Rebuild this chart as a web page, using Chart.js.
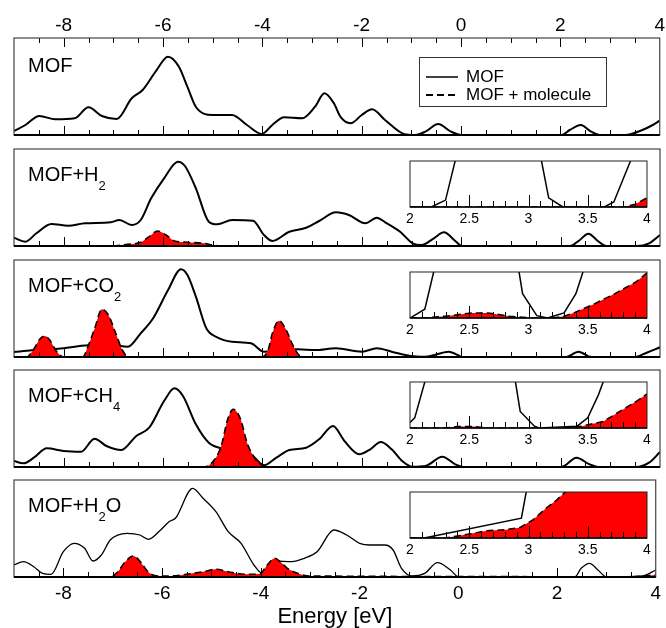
<!DOCTYPE html>
<html>
<head>
<meta charset="utf-8">
<script src="https://cdn.jsdelivr.net/npm/chart.js@4.4.0/dist/chart.umd.min.js"></script>
<style>
  html, body { margin: 0; padding: 0; background: #fff; }
  #fig { position: relative; width: 666px; height: 628px; overflow: hidden; background: #fff; }
  #fig canvas { position: absolute; }
</style>
</head>
<body>
<div id="fig"></div>
<script>
// Axis settings
const energyMin = -9, energyMax = 4;
const energyTicks = [-8, -6, -4, -2, 0, 2, 4];
const insetMin = 2, insetMax = 4;
const insetTicks = [2, 2.5, 3, 3.5, 4];
const dosMax = 97;      // main panels (arb. units)
const insetDosMax = 1;  // insets (arb. units)

const panelLabels = ['MOF', 'MOF+H_2', 'MOF+CO_2', 'MOF+CH_4', 'MOF+H_2O'];
const legendLabels = ['MOF', 'MOF + molecule'];

// Panel 1: MOF
const mofE1 = [-9, -8.77, -8.49, -8.17, -7.78, -7.5, -7.23, -6.93, -6.63, -6.41, -6.15, -5.9, -5.68, -5.51, -5.34, -5.0, -4.61, -4.31, -4.01, -3.8, -3.56, -3.2, -2.94, -2.75, -2.56, -2.43, -2.22, -2.0, -1.79, -1.53, -1.15, -0.93, -0.72, -0.46, -0.2, 0.01, 2.02, 2.19, 2.41, 2.62, 2.79, 3.31, 3.65, 3.86, 4.0];
const mofDos1 = [4, 10, 19, 15.7, 16.7, 27.7, 19, 16, 36.7, 45, 63.3, 78.3, 68.3, 48.3, 28.3, 20, 20, 10, 1, 10, 17.7, 16.7, 28.3, 41.7, 31.7, 18.3, 11.7, 20, 25.7, 15, 1, 0, 3.3, 11, 3.3, 0, 0, 5, 10, 3.3, 0, 0, 5, 10, 14.3];

// Panel 2: MOF+H2
const mofE2 = [-9, -8.77, -8.55, -8.25, -7.91, -7.57, -7.05, -6.88, -6.63, -6.45, -6.24, -5.98, -5.7, -5.56, -5.34, -5.08, -4.91, -4.61, -4.19, -3.97, -3.8, -3.46, -3.12, -2.86, -2.52, -2.26, -1.93, -1.7, -1.53, -1.23, -0.98, -0.8, -0.55, -0.35, -0.12, 0.01, 2.19, 2.36, 2.56, 2.75, 2.92, 3.52, 3.78, 4.0];
const mofDos2 = [8.3, 4.3, 12.7, 22, 20.3, 22.7, 23.7, 26, 21, 26, 47.7, 67.7, 84.3, 80, 57.7, 24.3, 21.7, 26, 25.3, 11, 5, 14.3, 18.3, 25, 33.7, 31, 22.7, 28.3, 23.7, 14.3, 2.7, 1, 7.7, 13.7, 5, 0, 0, 5, 12.3, 5, 0, 0, 2.7, 11];
const molE2 = [-9, -7.1, -6.75, -6.45, -6.28, -6.11, -5.94, -5.77, -5.51, -5.17, -5.0, -4.8, 4];
const molDos2 = [0, 0, 1.5, 3.7, 9.3, 15, 11, 5, 3.7, 2.7, 1, 0, 0];

// Panel 3: MOF+CO2
const mofE3 = [-9, -8.64, -8.11, -7.5, -7.05, -6.71, -6.45, -6.2, -5.9, -5.64, -5.51, -5.34, -5.13, -4.91, -4.61, -4.23, -3.97, -3.6, -3.29, -2.94, -2.52, -2.0, -1.7, -1.4, -1.02, -0.72, -0.25, 0.05, 2.11, 2.36, 2.62, 3.48, 3.73, 4.0];
const mofDos3 = [5, 6.7, 8.3, 11.7, 12, 10.3, 23.7, 38.7, 67, 87.7, 82, 60.3, 28.7, 19.7, 15.3, 13.7, 5.3, 7, 7.7, 7, 8.7, 5.3, 8.7, 5.3, 1, 0.3, 5.3, 0, 0, 5.3, 0, 0, 4.3, 9.7];
const molE3 = [-9, -8.75, -8.6, -8.48, -8.38, -8.28, -8.15, -8.0, -7.62, -7.5, -7.38, -7.23, -7.1, -6.97, -6.82, -6.7, -4.0, -3.88, -3.8, -3.67, -3.54, -3.37, -3.24, -3.1, 4];
const molDos3 = [0, 0, 8, 18, 21, 17, 6, 0, 0, 12, 28, 47.7, 42, 26, 7, 0, 0, 8, 23.7, 36.3, 28.7, 10, 1, 0, 0];

// Panel 4: MOF+CH4
const mofE4 = [-9, -8.81, -8.6, -8.34, -8.0, -7.65, -7.38, -7.14, -6.84, -6.54, -6.28, -5.98, -5.77, -5.6, -5.34, -5.08, -4.83, -4.55, -4.23, -3.97, -3.72, -3.46, -3.12, -2.86, -2.58, -2.35, -2.05, -1.83, -1.62, -1.4, -1.19, -0.98, -0.72, -0.38, -0.12, 0.05, 2.02, 2.32, 2.58, 2.79, 3.52, 3.78, 4.0];
const mofDos4 = [6, 3.7, 9.3, 18.7, 16, 15.3, 28.3, 21, 17, 31, 39.3, 66, 78.7, 71, 42.7, 24.3, 18.7, 17, 12.7, 1.7, 9.3, 17, 19.3, 27.7, 41, 26, 12.7, 17.7, 25, 17.7, 6, 0.3, 1, 10.3, 2.7, 0, 0, 9.3, 2.7, 0, 0, 4.3, 15];
const molE4 = [-9, -5.17, -4.96, -4.83, -4.7, -4.59, -4.44, -4.31, -4.14, -3.97, -3.85, 4];
const molDos4 = [0, 0, 7.7, 21, 47.7, 57.7, 47.7, 24.3, 7.7, 1, 0, 0];

// Panel 5: MOF+H2O
const mofE5 = [-9, -8.81, -8.6, -8.42, -8.25, -8.0, -7.78, -7.57, -7.4, -7.23, -7.05, -6.71, -6.45, -6.28, -6.03, -5.86, -5.73, -5.38, -5.17, -4.91, -4.66, -4.4, -4.14, -3.97, -3.72, -3.37, -3.12, -2.86, -2.52, -2.26, -2.0, -1.79, -1.49, -1.32, -1.15, -0.93, -0.68, -0.42, -0.16, 0.01, 2.36, 2.49, 2.66, 2.83, 3.01, 3.73, 4.0];
const mofDos5 = [12, 15.3, 10.3, 3.7, 2.7, 25.3, 33.7, 28.7, 16, 22, 37, 43.7, 42, 37.7, 47, 55.3, 58.7, 88.7, 78.7, 65.3, 45.3, 33.7, 12, 3.7, 16, 15.3, 18.7, 25.3, 47, 42, 33.7, 32, 32, 27, 8.7, 1, 3.7, 14.3, 7, 0, 0, 8.7, 13.7, 7, 0, 1, 7];
const molE5 = [-9, -7.05, -6.9, -6.75, -6.58, -6.42, -6.3, -6.15, -5.9, -5.68, -5.51, -5.17, -4.91, -4.61, -4.31, -4.02, -3.9, -3.8, -3.71, -3.6, -3.46, -3.2, -3.0, 3.5, 4];
const molDos5 = [0, 0, 5, 15, 21, 14, 6, 1.5, 1, 1.5, 2.7, 5.3, 7.7, 4.7, 2.7, 3, 10, 16, 18.7, 15, 8.7, 2.7, 1, 0.3, 2];

// Insets (2 - 4 eV, zoomed)
const insE2 = [2.0, 2.18, 2.3, 2.4, 3.1, 3.17, 3.29, 3.64, 3.72, 3.9];
const insMof2 = [0, 0, 0.15, 1.2, 1.13, 0.2, 0, 0, 0.11, 1.25];
const insMolE2 = [2.0, 3.8, 3.9, 4.0];
const insMol2 = [0, 0, 0.06, 0.2];

const insE3 = [2.0, 2.125, 2.22, 2.9, 2.95, 3.07, 3.16, 3.3, 3.4, 3.48];
const insMof3 = [0, 0.19, 1.22, 1.32, 0.53, 0.05, 0, 0.11, 0.53, 1.16];
const insMolE3 = [2.0, 2.15, 2.3, 2.52, 2.66, 2.84, 3.02, 3.2, 3.3, 3.38, 3.55, 3.73, 3.91, 4.0];
const insMol3 = [0, 0.01, 0.04, 0.11, 0.11, 0.04, 0, 0, 0.04, 0.11, 0.3, 0.53, 0.79, 0.98];

const insE4 = [2.0, 2.04, 2.14, 2.88, 2.93, 3.05, 3.09, 3.41, 3.5, 3.59, 3.65];
const insMof4 = [0.12, 0.22, 1.14, 1.16, 0.36, 0.04, 0, 0.04, 0.22, 0.72, 1.14];
const insMolE4 = [2.0, 2.3, 2.4, 2.55, 2.66, 3.3, 3.45, 3.63, 3.77, 3.91, 4.0];
const insMol4 = [0, 0, 0.03, 0.03, 0, 0, 0.04, 0.14, 0.36, 0.58, 0.74];

const insE5 = [2.0, 2.12, 2.94, 3.0];
const insMof5 = [0, 0, 0.43, 1.27];
const insMolE5 = [2.0, 2.3, 2.51, 2.65, 2.81, 2.93, 3.04, 3.15, 3.24, 3.35, 4.0];
const insMol5 = [0, 0, 0.09, 0.16, 0.18, 0.23, 0.4, 0.65, 0.83, 1.1, 1.1];

// Layout
const FONT = "'Liberation Sans', Arial, Helvetica, sans-serif";
Chart.defaults.font.family = FONT;
Chart.defaults.color = '#000';
const panelTops = [38, 149, 260, 370, 480];
const panelH = 97;

const pts = (xs, ys) => xs.map((x, i) => ({ x: x, y: ys[i] }));

function addCanvas(left, top, width, height) {
    const c = document.createElement('canvas');
    c.width = width;
    c.height = height;
    c.style.left = left + 'px';
    c.style.top = top + 'px';
    c.style.width = width + 'px';
    c.style.height = height + 'px';
    document.getElementById('fig').appendChild(c);
    return c;
}

// Frame plus inward ticks, drawn from the x scale
const frameTicks = {
    id: 'frameTicks',
    beforeDraw(chart, args, o) {
        if (!o.fillWhite) return;
        const { ctx, chartArea: a } = chart;
        ctx.save();
        ctx.fillStyle = '#fff';
        ctx.fillRect(a.left, a.top, a.width, a.height);
        ctx.restore();
    },
    afterDatasetsDraw(chart, args, o) {
        const { ctx, chartArea: a, scales: { x } } = chart;
        ctx.save();
        ctx.strokeStyle = '#000';
        ctx.lineWidth = 1;
        const n = Math.round((o.to - o.from) / o.step);
        ctx.beginPath();
        for (let k = 0; k <= n; k++) {
            const v = o.from + k * o.step;
            const px = Math.round(x.getPixelForValue(v)) + 0.5;
            const major = o.major.some(m => Math.abs(m - v) < 1e-6);
            const len = major ? o.majorLen : o.minorLen;
            ctx.moveTo(px, a.bottom);
            ctx.lineTo(px, a.bottom - len);
            if (o.top) {
                ctx.moveTo(px, a.top);
                ctx.lineTo(px, a.top + len);
            }
        }
        ctx.stroke();
        ctx.strokeStyle = o.frameColor;
        ctx.lineWidth = o.frameWidth;
        ctx.strokeRect(a.left, a.top, a.width, a.height);
        ctx.strokeStyle = '#000';
        ctx.lineWidth = o.axisWidth;
        ctx.beginPath();
        ctx.moveTo(a.left, a.bottom);
        ctx.lineTo(a.right, a.bottom);
        ctx.stroke();
        ctx.restore();
    }
};

// Panel name with subscripts ("_2" -> subscript 2)
const panelLabel = {
    id: 'panelLabel',
    afterDraw(chart, args, o) {
        const { ctx, chartArea: a } = chart;
        let x = a.left + 14;
        const y = a.top + o.dy;
        ctx.save();
        ctx.fillStyle = '#000';
        ctx.textBaseline = 'alphabetic';
        o.text.split(/(_\d)/).forEach(p => {
            if (!p) return;
            if (p[0] === '_') {
                ctx.font = '13px ' + FONT;
                ctx.fillText(p.slice(1), x, y + 9);
                x += ctx.measureText(p.slice(1)).width;
            } else {
                ctx.font = '20px ' + FONT;
                ctx.fillText(p, x, y);
                x += ctx.measureText(p).width;
            }
        });
        ctx.restore();
    }
};

// Boxed legend inside the top panel
const legendBox = {
    id: 'legendBox',
    afterDraw(chart, args, o) {
        if (!o.show) return;
        const { ctx, chartArea: a } = chart;
        const left = a.left + 405, top = a.top + 19, w = 187, h = 49;
        ctx.save();
        ctx.strokeStyle = '#333';
        ctx.lineWidth = 1;
        ctx.strokeRect(left + 0.5, top + 0.5, w, h);
        ctx.font = '17px ' + FONT;
        ctx.fillStyle = '#000';
        ctx.textBaseline = 'middle';
        legendLabels.forEach((lab, i) => {
            const y = top + 20 + i * 18;
            ctx.strokeStyle = '#000';
            ctx.lineWidth = i === 0 ? 1.5 : 1.8;
            ctx.setLineDash(i === 0 ? [] : [7, 4]);
            ctx.beginPath();
            ctx.moveTo(left + 7, y);
            ctx.lineTo(left + 39, y);
            ctx.stroke();
            ctx.fillText(lab, left + 47, y);
        });
        ctx.restore();
    }
};

function mofDataset(e, d, width) {
    return {
        label: 'MOF', data: pts(e, d), borderColor: '#000', borderWidth: width,
        pointRadius: 0, fill: false, cubicInterpolationMode: 'monotone', order: 2
    };
}

function molDataset(e, d) {
    return {
        label: 'MOF + molecule', data: pts(e, d), borderColor: '#000', borderWidth: 1.6,
        borderDash: [7, 4], backgroundColor: '#ff0000', fill: 'origin', pointRadius: 0,
        cubicInterpolationMode: 'monotone', order: 1
    };
}

function makePanel(i, datasets) {
    const first = i === 0, last = i === panelTops.length - 1;
    const top = first ? 0 : panelTops[i] - 2;
    const bottom = last ? 628 : panelTops[i] + panelH + 2;
    const canvas = addCanvas(0, top, 666, bottom - top);
    new Chart(canvas, {
        type: 'line',
        data: { datasets: datasets },
        options: {
            responsive: false,
            animation: false,
            events: [],
            layout: { padding: { left: 14, right: 6, top: 2, bottom: last ? 0 : 2 } },
            scales: {
                x: {
                    type: 'linear', min: energyMin, max: energyMax,
                    display: first || last,
                    position: first ? 'top' : 'bottom',
                    afterBuildTicks: s => { s.ticks = energyTicks.map(v => ({ value: v })); },
                    afterFit: s => { s.height = first ? 36 : (last ? 51 : 0); },
                    grid: { display: false, drawTicks: false },
                    border: { display: false },
                    ticks: { font: { size: 19 }, color: '#000', padding: first ? 1 : 5, maxRotation: 0 },
                    title: {
                        display: last, text: 'Energy [eV]', color: '#000',
                        font: { size: 22, lineHeight: 1 }, padding: 0
                    }
                },
                y: { display: false, min: 0, max: dosMax }
            },
            plugins: {
                legend: { display: false },
                tooltip: { enabled: false },
                frameTicks: {
                    from: -8.5, to: 3.5, step: 0.5,
                    major: energyTicks, majorLen: 9, minorLen: 5, top: first,
                    frameColor: '#444', frameWidth: 1.2, axisWidth: 2
                },
                panelLabel: { text: panelLabels[i], dy: first ? 34 : 32 },
                legendBox: { show: first }
            }
        },
        plugins: [frameTicks, panelLabel, legendBox]
    });
}

function makeInset(i, datasets) {
    const top = panelTops[i] + 10;
    const canvas = addCanvas(400, top, 256, 70);
    new Chart(canvas, {
        type: 'line',
        data: { datasets: datasets },
        options: {
            responsive: false,
            animation: false,
            events: [],
            layout: { padding: { left: 10, right: 9, top: 2, bottom: 0 } },
            scales: {
                x: {
                    type: 'linear', min: insetMin, max: insetMax, position: 'bottom',
                    afterBuildTicks: s => { s.ticks = insetTicks.map(v => ({ value: v })); },
                    afterFit: s => { s.height = 22; },
                    grid: { display: false, drawTicks: false },
                    border: { display: false },
                    ticks: { font: { size: 14 }, color: '#000', padding: 4, maxRotation: 0,
                             callback: v => String(v) }
                },
                y: { display: false, min: 0, max: insetDosMax }
            },
            plugins: {
                legend: { display: false },
                tooltip: { enabled: false },
                frameTicks: {
                    from: 2.1, to: 3.9, step: 0.1,
                    major: insetTicks, majorLen: 12, minorLen: 6, top: false, fillWhite: true,
                    frameColor: '#222', frameWidth: 1, axisWidth: 1.5
                }
            }
        },
        plugins: [frameTicks]
    });
}

// Main panels
makePanel(0, [mofDataset(mofE1, mofDos1, 2)]);
makePanel(1, [mofDataset(mofE2, mofDos2, 2), molDataset(molE2, molDos2)]);
makePanel(2, [mofDataset(mofE3, mofDos3, 2), molDataset(molE3, molDos3)]);
makePanel(3, [mofDataset(mofE4, mofDos4, 2), molDataset(molE4, molDos4)]);
makePanel(4, [mofDataset(mofE5, mofDos5, 1.3), molDataset(molE5, molDos5)]);

// Insets: straight segments between points
const straight = ds => Object.assign(ds, { cubicInterpolationMode: 'default', tension: 0, borderWidth: 1.5 });
makeInset(1, [straight(mofDataset(insE2, insMof2, 1.5)), straight(molDataset(insMolE2, insMol2))]);
makeInset(2, [straight(mofDataset(insE3, insMof3, 1.5)), straight(molDataset(insMolE3, insMol3))]);
makeInset(3, [straight(mofDataset(insE4, insMof4, 1.5)), straight(molDataset(insMolE4, insMol4))]);
makeInset(4, [straight(mofDataset(insE5, insMof5, 1.5)), straight(molDataset(insMolE5, insMol5))]);
</script>
</body>
</html>
